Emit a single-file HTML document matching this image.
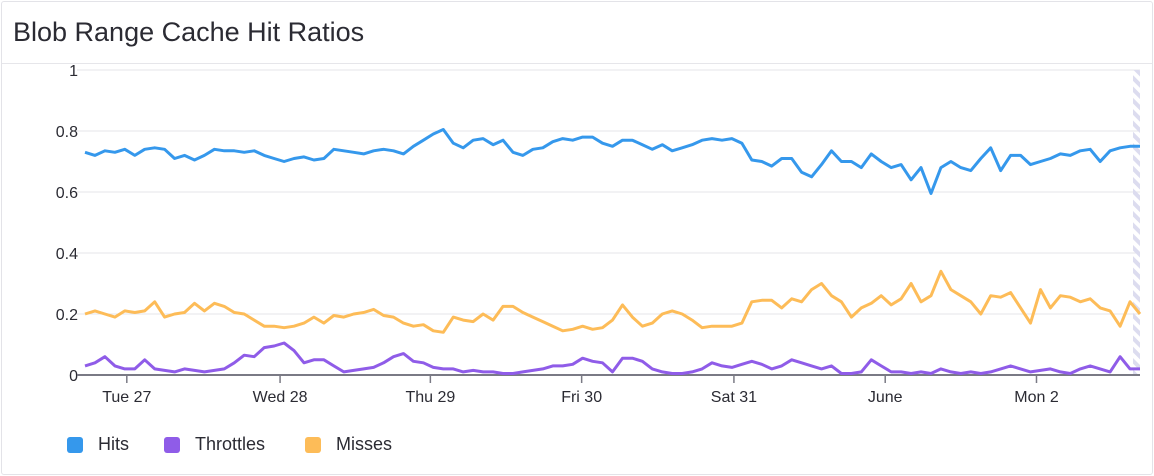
<!DOCTYPE html>
<html><head><meta charset="utf-8"><style>
body{margin:0;background:#fff;font-family:"Liberation Sans",sans-serif;}
#card{position:absolute;left:1px;top:1px;width:1150px;height:472px;border:1px solid #e3e3e8;border-radius:3px;}
#title{position:absolute;left:11px;top:15px;font-size:27px;color:#2b2b33;}
#div{position:absolute;left:0;top:61px;width:1150px;height:1px;background:#e6e6ea;}
.leg{position:absolute;top:434px;font-size:18px;color:#2b2b33;display:flex;align-items:center;}
.sw{width:16px;height:16px;border-radius:3px;margin-right:15px;}
</style></head><body>
<div id="card">
<div id="title">Blob Range Cache Hit Ratios</div>
<div id="div"></div>
</div>
<svg id="chart" width="1154" height="476" style="position:absolute;left:0;top:0"></svg>
<div class="leg" style="left:67px"><div class="sw" style="background:#3598ec"></div>Hits</div>
<div class="leg" style="left:164px"><div class="sw" style="background:#8f5ce8"></div>Throttles</div>
<div class="leg" style="left:305px"><div class="sw" style="background:#fdbc58"></div>Misses</div>
<script>
const hits=[0.73,0.72,0.735,0.73,0.74,0.72,0.74,0.745,0.74,0.71,0.72,0.705,0.72,0.74,0.735,0.735,0.73,0.735,0.72,0.71,0.70,0.71,0.715,0.705,0.71,0.74,0.735,0.73,0.725,0.735,0.74,0.735,0.725,0.75,0.77,0.79,0.805,0.76,0.745,0.77,0.775,0.755,0.77,0.73,0.72,0.74,0.745,0.765,0.775,0.77,0.78,0.78,0.76,0.75,0.77,
0.77,0.755,0.74,0.755,0.735,0.745,0.755,0.77,0.775,0.77,0.775,0.76,0.705,0.7,0.685,0.71,0.71,0.665,0.65,0.69,0.735,0.70,0.70,0.68,0.725,0.70,0.68,0.69,0.64,0.68,0.595,0.68,0.70,0.68,0.67,0.71,0.745,0.67,0.72,0.72,0.69,0.70,0.71,0.725,0.72,0.735,0.74,0.70,0.735,0.745,0.75,0.75];
const misses=[0.20,0.21,0.20,0.19,0.21,0.205,0.21,0.24,0.19,0.20,0.205,0.235,0.21,0.235,0.225,0.205,0.20,0.18,0.16,0.16,0.155,0.16,0.17,0.19,0.17,0.195,0.19,0.20,0.205,0.215,0.195,0.19,0.17,0.16,0.165,0.145,0.14,0.19,0.18,0.175,0.20,0.18,0.225,0.225,0.205,0.19,0.175,0.16,0.145,0.15,0.16,0.15,0.155,0.18,0.23,
0.19,0.16,0.17,0.20,0.21,0.20,0.18,0.155,0.16,0.16,0.16,0.17,0.24,0.245,0.245,0.22,0.25,0.24,0.28,0.30,0.26,0.24,0.19,0.22,0.235,0.26,0.23,0.25,0.30,0.24,0.26,0.34,0.28,0.26,0.24,0.20,0.26,0.255,0.27,0.22,0.17,0.28,0.22,0.26,0.255,0.24,0.25,0.22,0.21,0.16,0.24,0.20];
const throttles=[0.03,0.04,0.06,0.03,0.02,0.02,0.05,0.02,0.015,0.01,0.02,0.015,0.01,0.015,0.02,0.04,0.065,0.06,0.09,0.095,0.105,0.08,0.04,0.05,0.05,0.03,0.01,0.015,0.02,0.025,0.04,0.06,0.07,0.045,0.04,0.025,0.02,0.02,0.01,0.015,0.01,0.01,0.005,0.005,0.01,0.015,0.02,0.03,0.03,0.035,0.055,0.045,0.04,0.01,0.055,
0.055,0.045,0.02,0.01,0.005,0.005,0.01,0.02,0.04,0.03,0.025,0.035,0.045,0.035,0.02,0.03,0.05,0.04,0.03,0.02,0.03,0.005,0.005,0.01,0.05,0.03,0.01,0.01,0.005,0.01,0.005,0.02,0.01,0.005,0.01,0.005,0.01,0.02,0.03,0.02,0.01,0.015,0.02,0.01,0.005,0.02,0.03,0.02,0.01,0.06,0.02,0.02];
const yTicks=[0,0.2,0.4,0.6,0.8,1];
const yTickLabels=["0","0.2","0.4","0.6","0.8","1"];
const xTickPos=[4.2,19.6,34.7,49.9,65.2,80.4,95.6];
const xTickLabels=["Tue 27","Wed 28","Thu 29","Fri 30","Sat 31","June","Mon 2"];
const svg=document.getElementById('chart');const NS='http://www.w3.org/2000/svg';
const N=hits.length;const X0=85,X1=1140,Y0=375,Y1=70;
const xs=i=>X0+(X1-X0)*i/(N-1);const ys=v=>Y0-(Y0-Y1)*v;
function mk(t,a){const e=document.createElementNS(NS,t);for(const k in a)e.setAttribute(k,a[k]);svg.appendChild(e);return e;}
yTicks.forEach((v,i)=>{
 if(v>0){const g=mk('line',{x1:X0-8,x2:X1,y1:ys(v),y2:ys(v),stroke:'#e4e4ea','stroke-width':1});
 
 }
 const t=mk('text',{x:78,y:ys(v)+6,'text-anchor':'end','font-size':16,fill:'#2b2b33','font-family':'Liberation Sans, sans-serif'});
 t.textContent=yTickLabels[i];
 
 
});
const defs=mk('defs',{});defs.innerHTML='<pattern id="hatch" width="8" height="8" patternUnits="userSpaceOnUse" patternTransform="rotate(-45)"><rect width="4" height="8" fill="#dcdcef"/></pattern>';
const hb=mk('rect',{x:1133,y:Y1,width:7,height:Y0-Y1,fill:'url(#hatch)'});


const ax=mk('line',{x1:X0-8,x2:X1,y1:Y0,y2:Y0,stroke:'#7a7a85','stroke-width':2});


xTickPos.forEach((p,i)=>{
 const tk=mk('line',{x1:xs(p),x2:xs(p),y1:Y0,y2:Y0+8,stroke:'#7a7a85','stroke-width':1.5});
 
 
 const t=mk('text',{x:xs(p),y:Y0+27,'text-anchor':'middle','font-size':16,fill:'#2b2b33','font-family':'Liberation Sans, sans-serif'});
 t.textContent=xTickLabels[i];
 
 
});
function line(arr,color,name){
 const d=arr.map((v,i)=>(i?'L':'M')+xs(i).toFixed(1)+','+ys(v).toFixed(1)).join('');
 const p=mk('path',{d:d,fill:'none',stroke:color,'stroke-width':3,'stroke-linejoin':'round'});
 
 
}
line(misses,'#fdbc58','misses-line');
line(throttles,'#8f5ce8','throttles-line');
line(hits,'#3598ec','hits-line');
</script>
</body></html>
